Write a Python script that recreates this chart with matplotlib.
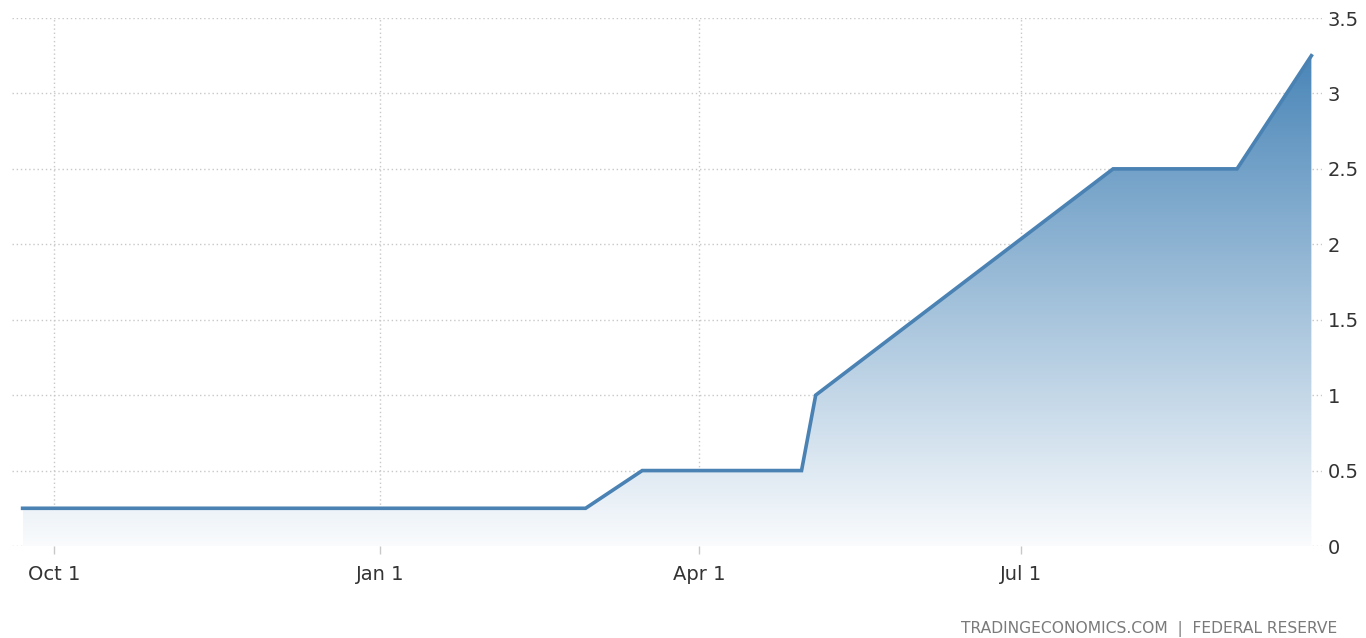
import numpy as np
import pandas as pd
import matplotlib
matplotlib.use("Agg")
import matplotlib.pyplot as plt
import matplotlib.dates as mdates
from matplotlib.patches import Polygon

# Fed funds rate (upper bound), Sep 2021 - Sep 2022
dates = ["2021-09-22", "2021-11-03", "2021-12-15", "2022-01-26", "2022-02-28",
         "2022-03-16", "2022-04-30", "2022-05-04", "2022-06-15", "2022-07-27",
         "2022-08-31", "2022-09-21"]
rates = [0.25, 0.25, 0.25, 0.25, 0.25, 0.5, 0.5, 1.0, 1.75, 2.5, 2.5, 3.25]
tick_dates = ["2021-10-01", "2022-01-01", "2022-04-01", "2022-07-01"]
tick_labels = ["Oct 1", "Jan 1", "Apr 1", "Jul 1"]
y_ticks = [0, 0.5, 1, 1.5, 2, 2.5, 3, 3.5]
y_labels = ["0", "0.5", "1", "1.5", "2", "2.5", "3", "3.5"]

line_color = "#4a82b4"
grid_color = "#c8c8c8"
text_color = "#333333"

x = mdates.date2num(pd.to_datetime(dates))
y = np.array(rates)

fig = plt.figure(figsize=(13.66, 6.38), dpi=100)
ax = fig.add_axes([12 / 1366, 92 / 638, 1310 / 1366, 528 / 638])

x0 = mdates.date2num(pd.Timestamp("2021-09-19"))
x1 = mdates.date2num(pd.Timestamp("2022-09-24"))
ax.set_xlim(x0, x1)
ax.set_ylim(0, 3.5)

# gradient fill under the line
ymax = y.max()
grad = np.linspace(0, 1, 256).reshape(-1, 1)
alpha = 0.03 + 0.97 * grad
base = np.array(matplotlib.colors.to_rgb("#4a86b8"))
img = np.ones((256, 1, 4))
img[..., :3] = 1 - alpha[..., None] * (1 - base)
img[..., 3] = 1
im = ax.imshow(img, extent=[x[0], x[-1], 0, ymax], origin="lower",
               aspect="auto", zorder=1)
poly = Polygon(np.column_stack([np.r_[x[0], x, x[-1]], np.r_[0, y, 0]]),
               closed=True, facecolor="none", edgecolor="none")
ax.add_patch(poly)
im.set_clip_path(poly)

ax.plot(x, y, color=line_color, lw=2.6, solid_joinstyle="miter", zorder=3)

# grid
ax.set_yticks(y_ticks)
ax.set_yticklabels(y_labels)
ax.set_xticks(mdates.date2num(pd.to_datetime(tick_dates)))
ax.set_xticklabels(tick_labels)
ax.grid(True, color=grid_color, linestyle=(0, (1, 2)), lw=1.0, zorder=0)
ax.set_axisbelow(True)
for s in ax.spines.values():
    s.set_visible(False)
ax.yaxis.tick_right()
ax.tick_params(axis="y", length=0, pad=4, labelsize=14, labelcolor=text_color)
ax.tick_params(axis="x", length=6, width=1, color=grid_color, pad=8,
               labelsize=14, labelcolor=text_color)

fig.text(1337 / 1366, 1 - 629 / 638, "TRADINGECONOMICS.COM  |  FEDERAL RESERVE",
         ha="right", va="center", fontsize=11.2, color="#7a7a7a")

fig.savefig("out.png", dpi=100)
